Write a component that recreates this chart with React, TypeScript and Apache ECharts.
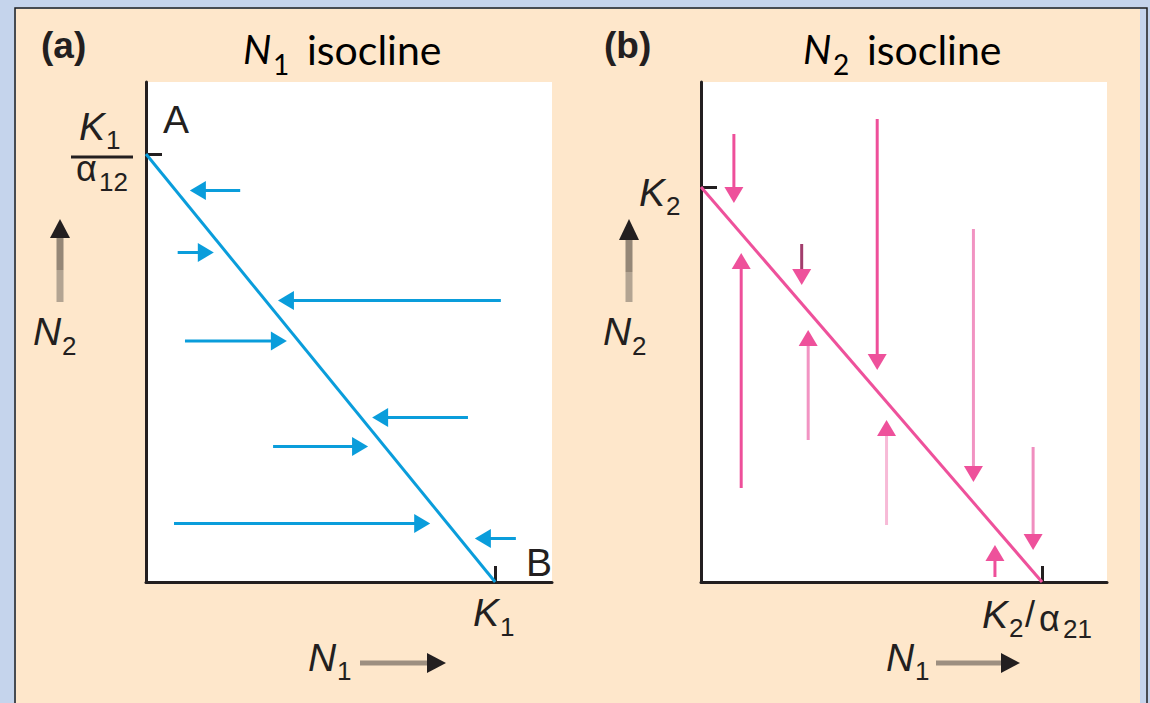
import { useEffect, useRef } from "react";
import * as echarts from "echarts";

// ---- Panel (a): N1 isocline (horizontal arrows = change in N1) ----
const k1OverAlpha12 = 8.56; // isocline meets the N2 axis
const k1 = 8.6; // isocline meets the N1 axis
const aArrowN2 = [7.83, 6.59, 5.63, 4.82, 3.29, 2.71, 1.17, 0.87];
const aArrowFromN1 = [2.32, 0.78, 8.74, 0.96, 7.93, 3.13, 0.69, 9.11];
const aArrowToN1 = [1.08, 1.67, 3.25, 3.47, 5.57, 5.47, 7.0, 8.1];

// ---- Panel (b): N2 isocline (vertical arrows = change in N2) ----
const k2 = 7.9;
const k2OverAlpha21 = 8.4;
const bArrowN1 = [0.81, 0.99, 2.48, 2.64, 4.34, 4.57, 6.71, 8.18, 7.24];
const bArrowFromN2 = [8.96, 1.88, 6.76, 2.84, 9.26, 1.14, 7.06, 2.7, 0.1];
const bArrowToN2 = [7.58, 6.58, 5.94, 5.04, 4.24, 3.24, 2.0, 0.64, 0.74];

const BLUE = "#0a9ddb";
const PINK = "#ee519b";
const INK = "#231f20";
const aShaft = aArrowN2.map(() => BLUE);
const bShaft = ["#ee4f9a", "#ee4f9a", "#a23d6c", "#f294c3", "#ee4f9a", "#f7bad7", "#f193c2", "#f08ebf", "#ee4f9a"];

const LABEL_FONT = '"Liberation Sans", Arial, sans-serif';
const TITLE_FONT = 'Lato, "Noto Sans", sans-serif';

function arrowRenderer(shaftColors: string[], headColor: string) {
  return (params: any, api: any) => {
    const p1 = api.coord([api.value(0), api.value(1)]);
    const p2 = api.coord([api.value(2), api.value(3)]);
    const dx = p2[0] - p1[0];
    const dy = p2[1] - p1[1];
    const len = Math.hypot(dx, dy) || 1;
    const ux = dx / len;
    const uy = dy / len;
    const hl = 16;
    const hw = 9.5;
    const bx = p2[0] - ux * hl;
    const by = p2[1] - uy * hl;
    return {
      type: "group",
      children: [
        {
          type: "line",
          shape: { x1: p1[0], y1: p1[1], x2: bx + ux * 2, y2: by + uy * 2 },
          style: { stroke: shaftColors[params.dataIndex], lineWidth: 3 },
        },
        {
          type: "polygon",
          shape: {
            points: [
              [p2[0], p2[1]],
              [bx - uy * hw, by + ux * hw],
              [bx + uy * hw, by - ux * hw],
            ],
          },
          style: { fill: headColor },
        },
      ],
    };
  };
}

function axis(gridIndex: number, mark: number) {
  return {
    type: "value",
    gridIndex,
    min: 0,
    max: 10,
    axisLine: { show: true, onZero: false, lineStyle: { color: INK, width: 3 } },
    axisTick: { show: true, inside: true, length: 16, customValues: [mark], lineStyle: { color: INK, width: 3 } },
    axisLabel: { show: false },
    splitLine: { show: false },
  };
}

function txt(text: string, x: number, y: number, size: number, opts: any = {}) {
  return {
    type: "text",
    z: 50,
    style: {
      text,
      x,
      y,
      fill: opts.fill || INK,
      font: `${opts.italic ? "italic " : ""}${opts.bold ? "bold " : ""}${size}px ${opts.family || LABEL_FONT}`,
      align: "left",
      verticalAlign: "middle",
    },
  };
}

// Up arrow beside the N2 axis
function upArrow(cx: number, tip: number, base: number, bottom: number) {
  return [
    { type: "rect", z: 50, shape: { x: cx - 3.5, y: base - 1, width: 7, height: 33 }, style: { fill: "#958777" } },
    { type: "rect", z: 50, shape: { x: cx - 3.5, y: base + 32, width: 7, height: bottom - base - 32 }, style: { fill: "#b3a492" } },
    { type: "polygon", z: 51, shape: { points: [[cx, tip], [cx - 10, base], [cx + 10, base]] }, style: { fill: INK } },
  ];
}

// Right arrow beside the N1 axis
function rightArrow(x0: number, headStart: number, tip: number, cy: number) {
  return [
    { type: "rect", z: 50, shape: { x: x0, y: cy - 2.5, width: headStart - x0 + 1, height: 5 }, style: { fill: "#9d8f80" } },
    { type: "polygon", z: 51, shape: { points: [[tip, cy], [headStart, cy - 10], [headStart, cy + 10]] }, style: { fill: INK } },
  ];
}

export default function App() {
  const ref = useRef<HTMLDivElement>(null);

  useEffect(() => {
    if (!ref.current) return;
    const chart = echarts.init(ref.current, null, { renderer: "svg" });

    const aArrows = aArrowN2.map((y, i) => [aArrowFromN1[i], y, aArrowToN1[i], y]);
    const bArrows = bArrowN1.map((x, i) => [x, bArrowFromN2[i], x, bArrowToN2[i]]);

    const graphic: any[] = [
      // framed panel
      { type: "rect", z: -100, shape: { x: 16, y: 9, width: 1124, height: 700 }, style: { fill: "#fee7cb" } },
      { type: "rect", z: -99, shape: { x: 15, y: 8, width: 1132, height: 720 }, style: { fill: "none", stroke: "#1e1e1e", lineWidth: 1.5 } },
      // plot areas
      { type: "rect", z: -98, shape: { x: 146, y: 82, width: 406, height: 500 }, style: { fill: "#ffffff" } },
      { type: "rect", z: -98, shape: { x: 701, y: 82, width: 406, height: 500 }, style: { fill: "#ffffff" } },

      // panel (a) texts
      txt("(a)", 41, 45, 37, { bold: true }),
      txt("N", 243, 49, 40, { italic: true, family: TITLE_FONT, fill: "#000" }),
      txt("1", 273, 64, 28, { family: TITLE_FONT, fill: "#000" }),
      txt("isocline", 307, 49, 41, { family: TITLE_FONT, fill: "#000" }),
      txt("A", 163, 119, 39),
      txt("B", 526, 562, 39),
      txt("K", 79, 126, 39, { italic: true }),
      txt("1", 106, 140, 26),
      { type: "rect", z: 50, shape: { x: 71, y: 155.5, width: 62, height: 3 }, style: { fill: INK } },
      txt("α", 76, 168, 36),
      txt("12", 99, 182, 26),
      ...upArrow(60, 219, 238, 302),
      txt("N", 33, 331, 39, { italic: true }),
      txt("2", 62, 346, 26),
      txt("K", 473, 612, 39, { italic: true }),
      txt("1", 500, 627, 26),
      txt("N", 308, 657, 39, { italic: true }),
      txt("1", 337, 671, 26),
      ...rightArrow(360, 427, 446, 663),

      // panel (b) texts
      txt("(b)", 604, 45, 37, { bold: true }),
      txt("N", 803, 49, 40, { italic: true, family: TITLE_FONT, fill: "#000" }),
      txt("2", 833, 64, 28, { family: TITLE_FONT, fill: "#000" }),
      txt("isocline", 867, 49, 41, { family: TITLE_FONT, fill: "#000" }),
      txt("K", 639, 192, 39, { italic: true }),
      txt("2", 666, 206, 26),
      ...upArrow(629, 219, 240, 302),
      txt("N", 603, 331, 39, { italic: true }),
      txt("2", 632, 346, 26),
      txt("K", 982, 614, 39, { italic: true }),
      txt("2", 1009, 628, 26),
      txt("/", 1025, 614, 36),
      txt("α", 1039, 618, 36),
      txt("21", 1063, 629, 26),
      txt("N", 886, 657, 39, { italic: true }),
      txt("1", 915, 671, 26),
      ...rightArrow(936, 1001, 1020, 663),
    ];

    chart.setOption({
      animation: false,
      backgroundColor: "#c5d4ec",
      grid: [
        { left: 146, top: 82, width: 406, height: 500 },
        { left: 701, top: 82, width: 406, height: 500 },
      ],
      xAxis: [axis(0, k1), axis(1, k2OverAlpha21)],
      yAxis: [axis(0, k1OverAlpha12), axis(1, k2)],
      series: [
        {
          type: "line",
          xAxisIndex: 0,
          yAxisIndex: 0,
          data: [[0, k1OverAlpha12], [k1, 0]],
          showSymbol: false,
          symbol: "none",
          lineStyle: { color: BLUE, width: 3 },
          z: 3,
        },
        {
          type: "custom",
          xAxisIndex: 0,
          yAxisIndex: 0,
          data: aArrows,
          renderItem: arrowRenderer(aShaft, BLUE),
          z: 4,
        },
        {
          type: "line",
          xAxisIndex: 1,
          yAxisIndex: 1,
          data: [[0, k2], [k2OverAlpha21, 0]],
          showSymbol: false,
          symbol: "none",
          lineStyle: { color: PINK, width: 3 },
          z: 3,
        },
        {
          type: "custom",
          xAxisIndex: 1,
          yAxisIndex: 1,
          data: bArrows,
          renderItem: arrowRenderer(bShaft, PINK),
          z: 4,
        },
      ],
      graphic,
    });

    return () => chart.dispose();
  }, []);

  return <div ref={ref} style={{ position: "absolute", left: 0, top: 0, width: 1150, height: 703 }} />;
}
